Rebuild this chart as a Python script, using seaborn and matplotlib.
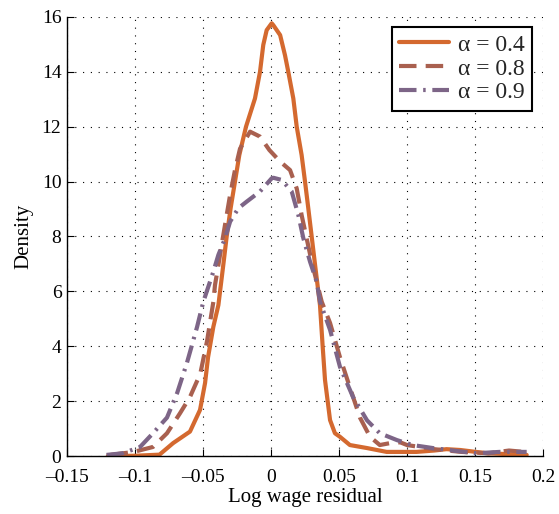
import numpy as np
import pandas as pd
import matplotlib
matplotlib.use("Agg")
import matplotlib.pyplot as plt
import seaborn as sns

# ---- data ----
x_a4 = [-0.12, -0.1, -0.082, -0.072, -0.0596, -0.0522, -0.0485, -0.0463, -0.0424, -0.0387,
        -0.0375, -0.0351, -0.0326, -0.0297, -0.0265, -0.0233, -0.0184, -0.0118, -0.0081,
        -0.0057, -0.0032, 0.0005, 0.0017, 0.0067, 0.0103, 0.0127, 0.0164, 0.0189, 0.0225,
        0.025, 0.0274, 0.0299, 0.0324, 0.0348, 0.036, 0.038, 0.0397, 0.0434, 0.047,
        0.0507, 0.058, 0.0706, 0.085, 0.107, 0.12, 0.129, 0.139, 0.159, 0.188]
y_a4 = [0.0, 0.01, 0.05, 0.47, 0.89, 1.68, 2.66, 3.6, 4.71, 5.5,
        5.99, 6.96, 8.0, 9.03, 10.0, 10.97, 12.0, 13.03, 14.0,
        14.98, 15.52, 15.77, 15.7, 15.34, 14.6, 14.0, 13.03, 12.0, 10.97,
        10.0, 9.03, 8.0, 6.96, 5.99, 5.5, 3.98, 2.77, 1.31, 0.83,
        0.7, 0.4, 0.29, 0.15, 0.15, 0.2, 0.25, 0.22, 0.1, 0.04]

x_a8 = [-0.118, -0.101, -0.0868, -0.0765, -0.0669, -0.0596, -0.052, -0.047, -0.0424, -0.0412,
        -0.0387, -0.0355, -0.0326, -0.0301, -0.0265, -0.0228, -0.0154, -0.0081, -0.0012, 0.0067,
        0.0140, 0.0189, 0.0225, 0.0262, 0.0299, 0.0336, 0.0373, 0.0434, 0.0507, 0.058,
        0.0654, 0.0728, 0.080, 0.0875, 0.095, 0.10, 0.12, 0.14, 0.16, 0.175, 0.186]
y_a8 = [0.04, 0.15, 0.33, 0.83, 1.56, 2.15, 3.0, 4.2, 5.62, 6.23,
        6.96, 7.93, 8.78, 9.51, 10.42, 11.2, 11.82, 11.64, 11.15, 10.73,
        10.42, 9.75, 8.78, 7.93, 7.08, 6.35, 5.62, 4.85, 3.6, 2.5,
        1.4, 0.7, 0.4, 0.47, 0.5, 0.4, 0.25, 0.15, 0.1, 0.2, 0.15]

x_a9 = [-0.121, -0.109, -0.0963, -0.0868, -0.0765, -0.069, -0.0618, -0.0544, -0.0498, -0.0473,
        -0.0424, -0.0387, -0.0338, -0.0301, -0.0240, -0.0179, -0.0081, 0.0005, 0.0017, 0.0079,
        0.0152, 0.0201, 0.0238, 0.0287, 0.0336, 0.036, 0.0434, 0.0507, 0.0603, 0.0706,
        0.080, 0.0926, 0.104, 0.119, 0.137, 0.151, 0.168, 0.188]
y_a9 = [0.04, 0.1, 0.33, 0.83, 1.4, 2.3, 3.4, 4.7, 5.62, 5.99,
        6.72, 7.33, 7.93, 8.54, 9.03, 9.27, 9.64, 10.12, 10.14, 10.06,
        9.64, 8.78, 7.93, 7.08, 6.35, 5.62, 4.6, 3.25, 2.15, 1.3,
        0.83, 0.58, 0.4, 0.29, 0.18, 0.1, 0.15, 0.15]

labels = ["α = 0.4", "α = 0.8", "α = 0.9"]
colors = ["#d4692f", "#a9604f", "#7d6587"]
x_ticks = [-0.15, -0.1, -0.05, 0, 0.05, 0.1, 0.15, 0.2]
x_ticklabels = ["–0.15", "–0.1", "–0.05", "0", "0.05", "0.1", "0.15", "0.2"]
y_ticks = [0, 2, 4, 6, 8, 10, 12, 14, 16]

sns.set_theme(style="white")
plt.rcParams["font.family"] = ["Liberation Serif", "DejaVu Serif"]

fig = plt.figure(figsize=(5.59, 5.14), dpi=100)
ax = fig.add_axes([0.1199, 0.1128, 0.8515, 0.8542])

series = [(x_a4, y_a4), (x_a8, y_a8), (x_a9, y_a9)]
dash_styles = [None, (4.2, 2.2), (4.2, 1.6, 0.6, 1.6)]
for (xs, ys), lab, col, dsh in zip(series, labels, colors, dash_styles):
    df = pd.DataFrame({"x": xs, "y": ys})
    sns.lineplot(data=df, x="x", y="y", ax=ax, color=col, lw=3.0,
                 label=lab, sort=True, estimator=None)
    line = ax.lines[-1]
    line.set_solid_joinstyle("round")
    if dsh is not None:
        line.set_dashes(dsh)
        line.set_dash_capstyle("butt")

ax.set_xlim(-0.15, 0.2)
ax.set_ylim(0, 16)
ax.set_xticks(x_ticks)
ax.set_xticklabels(x_ticklabels)
ax.set_yticks(y_ticks)
ax.tick_params(direction="in", length=5, width=0.8, colors="black",
               labelsize=14, top=False, right=False, bottom=True, left=True)
ax.tick_params(axis="x", pad=9)
ax.tick_params(axis="y", pad=4)
ax.grid(True, color="black", linestyle=(0, (1, 6)), linewidth=0.8)
for s in ["top", "right"]:
    ax.spines[s].set_visible(False)
for s in ["left", "bottom"]:
    ax.spines[s].set_color("black")
    ax.spines[s].set_linewidth(1.0)

ax.set_xlabel("Log wage residual", fontsize=15, color="black", labelpad=2)
ax.set_ylabel("Density", fontsize=15, color="black", labelpad=6)

leg = ax.legend(loc="upper right", fontsize=17, frameon=True, fancybox=False,
                edgecolor="black", framealpha=1, borderpad=0.3, handlelength=2.1,
                handletextpad=0.4, labelspacing=0.1, borderaxespad=0,
                bbox_to_anchor=(0.977, 0.977))
leg.get_frame().set_linewidth(1.5)

fig.savefig("out.png", dpi=100)
